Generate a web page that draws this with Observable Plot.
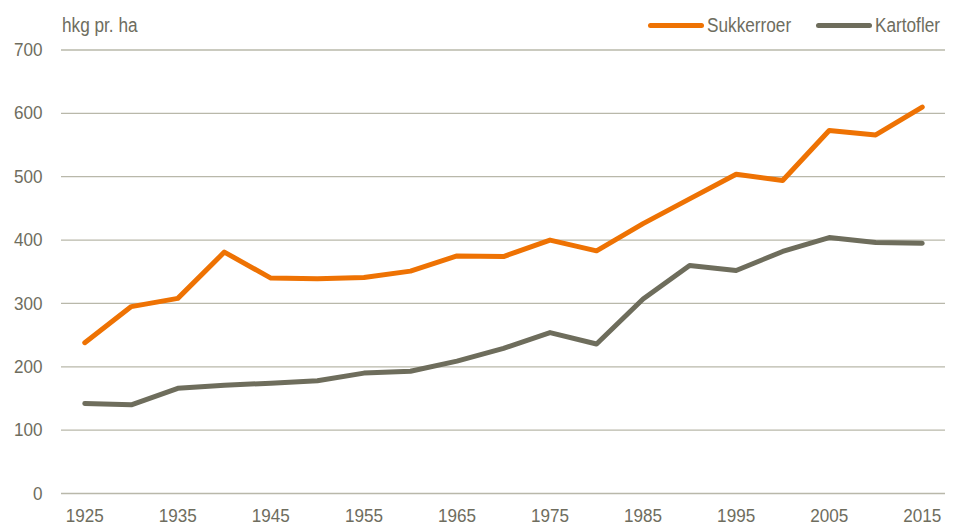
<!DOCTYPE html>
<html>
<head>
<meta charset="utf-8">
<script src="https://cdn.jsdelivr.net/npm/d3@7"></script>
<script src="https://cdn.jsdelivr.net/npm/@observablehq/plot@0.6"></script>
<style>
  html, body { margin: 0; padding: 0; background: #fff; }
  #wrap { position: relative; width: 953px; height: 530px; font-family: "Liberation Sans", Arial, sans-serif; color: #6e6d5e; }
  .lab { position: absolute; font-size: 20px; line-height: 1; white-space: nowrap; transform: scaleX(0.86); transform-origin: 0 0; }
  .sw { position: absolute; height: 5px; border-radius: 3px; }
</style>
</head>
<body>
<div id="wrap"></div>
<script>
const years = [1925,1930,1935,1940,1945,1950,1955,1960,1965,1970,1975,1980,1985,1990,1995,2000,2005,2010,2015];
const sukkerroer = [238,295,308,381,340,339,341,351,375,374,400,383,426,465,504,494,573,566,610];
const kartofler = [142,140,166,171,174,178,190,193,209,229,254,236,307,360,352,382,404,396,395];
const seriesNames = ["Sukkerroer", "Kartofler"];
const seriesColors = ["#ee7203", "#6e6d5c"];
const yTicks = [0,100,200,300,400,500,600,700];
const xTicks = [1925,1935,1945,1955,1965,1975,1985,1995,2005,2015];
const unitLabel = "hkg pr. ha";

const rows = [];
years.forEach((y, i) => {
  rows.push({year: y, value: sukkerroer[i], series: seriesNames[0]});
  rows.push({year: y, value: kartofler[i], series: seriesNames[1]});
});

const font = '"Liberation Sans", Arial, sans-serif';

const chart = Plot.plot({
  width: 953,
  height: 530,
  marginLeft: 61,
  marginRight: 8,
  marginTop: 49.5,
  marginBottom: 37,
  style: {fontFamily: font, fontSize: "19px", color: "#6e6d5e", background: "#fff"},
  x: {domain: [1922.5, 2017.5], label: null},
  y: {domain: [0, 700], label: null},
  color: {domain: seriesNames, range: seriesColors},
  marks: [
    Plot.gridY(yTicks, {stroke: "#b9b8aa", strokeOpacity: 1, strokeWidth: 1.3}),
    Plot.axisY({ticks: yTicks, tickSize: 0, tickPadding: 19, fill: "#6e6d5e", fontSize: 19, label: null}),
    Plot.axisX({ticks: xTicks, tickSize: 0, tickPadding: 15, fill: "#6e6d5e", fontSize: 19, label: null, tickFormat: d => String(d)}),
    Plot.line(rows, {x: "year", y: "value", z: "series", stroke: "series", strokeWidth: 5, strokeLinecap: "round", strokeLinejoin: "round"})
  ]
});

// condense axis tick labels horizontally to mimic the narrow reference font
d3.select(chart).selectAll("g[aria-label$='tick label'] text").each(function() {
  const el = this;
  let t = el.getAttribute("transform") || "";
  const x = el.getAttribute("x");
  if (x !== null) {
    t += ` translate(${x},0)`;
    el.removeAttribute("x");
  }
  el.setAttribute("transform", (t + " scale(0.9,1)").trim());
});

const wrap = document.getElementById("wrap");
wrap.appendChild(chart);

function addLabel(text, left, top) {
  const d = document.createElement("div");
  d.className = "lab";
  d.textContent = text;
  d.style.left = left + "px";
  d.style.top = top + "px";
  wrap.appendChild(d);
}
function addSwatch(color, left, width, top) {
  const d = document.createElement("div");
  d.className = "sw";
  d.style.background = color;
  d.style.left = left + "px";
  d.style.width = width + "px";
  d.style.top = top + "px";
  wrap.appendChild(d);
}
addLabel(unitLabel, 62, 15);
addSwatch(seriesColors[0], 648, 56, 23);
addLabel(seriesNames[0], 707, 15);
addSwatch(seriesColors[1], 816, 56, 23);
addLabel(seriesNames[1], 875, 15);
</script>
</body>
</html>
